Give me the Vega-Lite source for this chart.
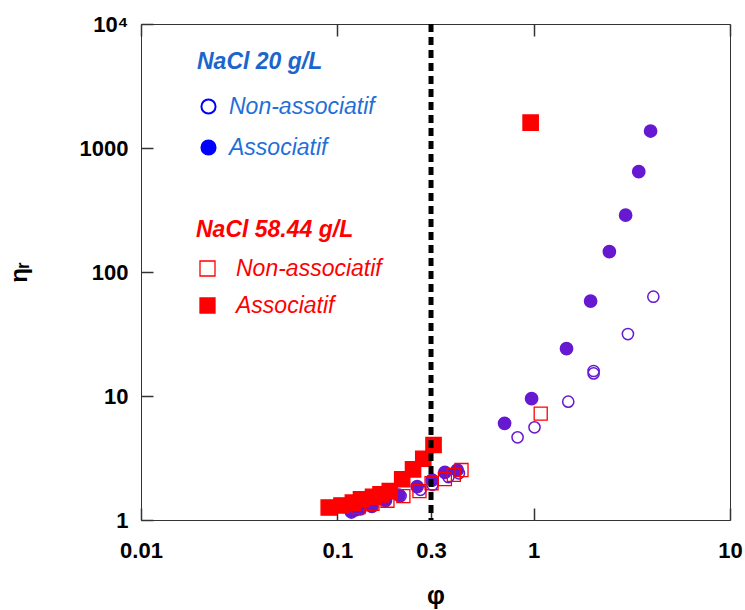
{
  "$schema": "https://vega.github.io/schema/vega-lite/v6.json",
  "width": 589,
  "height": 496,
  "autosize": {"type": "none"},
  "padding": {"left": 141, "top": 24, "right": 15, "bottom": 90},
  "background": "white",
  "config": {"view": {"stroke": "#333", "strokeWidth": 1}, "font": "Liberation Sans", "legend": {"labelLimit": 0}},
  "datasets": {
    "pts": [
      {"salt": "20", "type": "Associatif", "phi": 0.118, "eta": 1.16},
      {"salt": "20", "type": "Associatif", "phi": 0.131, "eta": 1.23},
      {"salt": "20", "type": "Associatif", "phi": 0.150, "eta": 1.29},
      {"salt": "20", "type": "Associatif", "phi": 0.176, "eta": 1.45},
      {"salt": "20", "type": "Associatif", "phi": 0.206, "eta": 1.59},
      {"salt": "20", "type": "Associatif", "phi": 0.255, "eta": 1.86},
      {"salt": "20", "type": "Associatif", "phi": 0.304, "eta": 2.10},
      {"salt": "20", "type": "Associatif", "phi": 0.353, "eta": 2.42},
      {"salt": "20", "type": "Associatif", "phi": 0.408, "eta": 2.53},
      {"salt": "20", "type": "Associatif", "phi": 0.711, "eta": 6.02},
      {"salt": "20", "type": "Associatif", "phi": 0.976, "eta": 9.51},
      {"salt": "20", "type": "Associatif", "phi": 1.47, "eta": 24.1},
      {"salt": "20", "type": "Associatif", "phi": 1.95, "eta": 58.3},
      {"salt": "20", "type": "Associatif", "phi": 2.43, "eta": 146},
      {"salt": "20", "type": "Associatif", "phi": 2.94, "eta": 287},
      {"salt": "20", "type": "Associatif", "phi": 3.43, "eta": 644},
      {"salt": "20", "type": "Associatif", "phi": 3.94, "eta": 1371},
      {"salt": "20", "type": "Non-associatif", "phi": 0.124, "eta": 1.20},
      {"salt": "20", "type": "Non-associatif", "phi": 0.148, "eta": 1.30},
      {"salt": "20", "type": "Non-associatif", "phi": 0.176, "eta": 1.42},
      {"salt": "20", "type": "Non-associatif", "phi": 0.210, "eta": 1.56},
      {"salt": "20", "type": "Non-associatif", "phi": 0.265, "eta": 1.75},
      {"salt": "20", "type": "Non-associatif", "phi": 0.305, "eta": 1.92},
      {"salt": "20", "type": "Non-associatif", "phi": 0.368, "eta": 2.22},
      {"salt": "20", "type": "Non-associatif", "phi": 0.416, "eta": 2.38},
      {"salt": "20", "type": "Non-associatif", "phi": 0.828, "eta": 4.64},
      {"salt": "20", "type": "Non-associatif", "phi": 1.01, "eta": 5.59},
      {"salt": "20", "type": "Non-associatif", "phi": 1.50, "eta": 9.0},
      {"salt": "20", "type": "Non-associatif", "phi": 2.02, "eta": 15.2},
      {"salt": "20", "type": "Non-associatif", "phi": 2.02, "eta": 15.9},
      {"salt": "20", "type": "Non-associatif", "phi": 3.02, "eta": 31.6},
      {"salt": "20", "type": "Non-associatif", "phi": 4.07, "eta": 63.2},
      {"salt": "58.44", "type": "Non-associatif", "phi": 0.128, "eta": 1.27},
      {"salt": "58.44", "type": "Non-associatif", "phi": 0.151, "eta": 1.35},
      {"salt": "58.44", "type": "Non-associatif", "phi": 0.180, "eta": 1.43},
      {"salt": "58.44", "type": "Non-associatif", "phi": 0.217, "eta": 1.56},
      {"salt": "58.44", "type": "Non-associatif", "phi": 0.262, "eta": 1.71},
      {"salt": "58.44", "type": "Non-associatif", "phi": 0.302, "eta": 1.98},
      {"salt": "58.44", "type": "Non-associatif", "phi": 0.353, "eta": 2.14},
      {"salt": "58.44", "type": "Non-associatif", "phi": 0.392, "eta": 2.31},
      {"salt": "58.44", "type": "Non-associatif", "phi": 0.429, "eta": 2.53},
      {"salt": "58.44", "type": "Non-associatif", "phi": 1.086, "eta": 7.2},
      {"salt": "58.44", "type": "Associatif", "phi": 0.0904, "eta": 1.26},
      {"salt": "58.44", "type": "Associatif", "phi": 0.105, "eta": 1.31},
      {"salt": "58.44", "type": "Associatif", "phi": 0.120, "eta": 1.38},
      {"salt": "58.44", "type": "Associatif", "phi": 0.132, "eta": 1.47},
      {"salt": "58.44", "type": "Associatif", "phi": 0.152, "eta": 1.54},
      {"salt": "58.44", "type": "Associatif", "phi": 0.166, "eta": 1.61},
      {"salt": "58.44", "type": "Associatif", "phi": 0.185, "eta": 1.71},
      {"salt": "58.44", "type": "Associatif", "phi": 0.214, "eta": 2.13},
      {"salt": "58.44", "type": "Associatif", "phi": 0.243, "eta": 2.56},
      {"salt": "58.44", "type": "Associatif", "phi": 0.274, "eta": 3.12},
      {"salt": "58.44", "type": "Associatif", "phi": 0.309, "eta": 4.03},
      {"salt": "58.44", "type": "Associatif", "phi": 0.965, "eta": 1600}
    ]
  },
  "data": {"name": "pts"},
  "layer": [
    {
      "transform": [{"filter": "datum.salt == '20'"}],
      "mark": {"type": "point", "shape": "circle", "stroke": "#6619d1", "strokeWidth": 1.5, "opacity": 1},
      "encoding": {
        "x": {
          "field": "phi", "type": "quantitative",
          "scale": {"type": "log", "domain": [0.01, 10], "nice": false},
          "axis": {
            "orient": "bottom", "values": [0.01, 0.1, 0.3, 1, 10], "format": "~g",
            "grid": false, "domain": false, "offset": -12, "ticks": true, "tickColor": "#333", "tickWidth": 1.5, "tickSize": 12,
            "labelPadding": 20, "labelFontSize": 22, "labelFontWeight": "bold", "labelColor": "black",
            "labelFlush": false, "labelOverlap": false, "labelFont": "Liberation Sans",
            "title": "φ", "titleFontSize": 25, "titleFontWeight": "bold", "titleColor": "black",
            "titleFont": "Liberation Sans", "titleBaseline": "alphabetic", "titleY": 95
          }
        },
        "y": {
          "field": "eta", "type": "quantitative",
          "scale": {"type": "log", "domain": [1, 10000], "nice": false},
          "axis": {
            "orient": "left", "values": [1, 10, 100, 1000, 10000],
            "labelExpr": "datum.value >= 10000 ? '10⁴' : format(datum.value, 'd')",
            "grid": false, "domain": false, "offset": -12, "ticks": true, "tickColor": "#333", "tickWidth": 1.5, "tickSize": 12,
            "labelPadding": 13, "labelFontSize": 22, "labelFontWeight": "bold", "labelColor": "black",
            "labelFlush": false, "labelOverlap": false, "labelFont": "Liberation Sans",
            "title": "ηᵣ", "titleFontSize": 24, "titleFontWeight": "bold", "titleColor": "black",
            "titleFont": "Liberation Sans", "titleX": -122, "titleY": 248
          }
        },
        "fill": {
          "field": "type", "type": "nominal",
          "scale": {"domain": ["Associatif", "Non-associatif"], "range": ["#6619d1", "transparent"]},
          "legend": null
        },
        "size": {
          "field": "type", "type": "nominal",
          "scale": {"domain": ["Associatif", "Non-associatif"], "range": [150, 125]},
          "legend": null
        }
      }
    },
    {
      "transform": [{"filter": "datum.salt == '20'"}],
      "mark": {"type": "point", "shape": "circle", "opacity": 0},
      "encoding": {
        "x": {"field": "phi", "type": "quantitative", "scale": {"type": "log", "domain": [0.01, 10], "nice": false}, "axis": null},
        "y": {"field": "eta", "type": "quantitative", "scale": {"type": "log", "domain": [1, 10000], "nice": false}, "axis": null},
        "fill": {
          "field": "type", "type": "nominal",
          "scale": {"domain": ["Non-associatif", "Associatif"], "range": ["transparent", "#0000ff"]},
          "legend": {
            "orient": "none", "legendX": 56, "legendY": 27, "direction": "vertical",
            "title": "NaCl 20 g/L", "titleColor": "#1a66cc", "titleFont": "Liberation Sans",
            "titleFontSize": 23, "titleFontStyle": "italic", "titleFontWeight": "bold", "titlePadding": 21,
            "labelColor": "#1f6fd8", "labelFont": "Liberation Sans", "labelFontSize": 23, "labelFontStyle": "italic",
            "labelOffset": 9, "rowPadding": 17, "symbolType": "circle", "symbolSize": 200, "symbolStrokeWidth": 2,
            "symbolOpacity": 1,
            "encoding": {"symbols": {"stroke": {"value": "#0000ff"}}}
          }
        }
      }
    },
    {
      "transform": [{"filter": "datum.salt == '58.44'"}],
      "mark": {"type": "point", "shape": "square", "stroke": "#ff0000", "strokeWidth": 1.3, "opacity": 1},
      "encoding": {
        "x": {"field": "phi", "type": "quantitative", "scale": {"type": "log", "domain": [0.01, 10], "nice": false}, "axis": null},
        "y": {"field": "eta", "type": "quantitative", "scale": {"type": "log", "domain": [1, 10000], "nice": false}, "axis": null},
        "fill": {
          "field": "type", "type": "nominal",
          "scale": {"domain": ["Non-associatif", "Associatif"], "range": ["transparent", "#ff0000"]},
          "legend": {
            "orient": "none", "legendX": 55, "legendY": 195, "direction": "vertical",
            "title": "NaCl 58.44 g/L", "titleColor": "#ff0000", "titleFont": "Liberation Sans",
            "titleFontSize": 23, "titleFontStyle": "italic", "titleFontWeight": "bold", "titlePadding": 15,
            "labelColor": "#ff0000", "labelFont": "Liberation Sans", "labelFontSize": 23, "labelFontStyle": "italic",
            "labelOffset": 17, "rowPadding": 13, "symbolType": "square", "symbolSize": 225, "symbolStrokeWidth": 1.3
          }
        },
        "size": {
          "field": "type", "type": "nominal",
          "scale": {"domain": ["Associatif", "Non-associatif"], "range": [235, 170]},
          "legend": null
        }
      }
    },
    {
      "data": {"values": [{"v": 0.3}]},
      "mark": {"type": "rule", "color": "black", "strokeWidth": 5, "strokeDash": [8, 5]},
      "encoding": {
        "x": {
          "field": "v", "type": "quantitative",
          "scale": {"type": "log", "domain": [0.01, 10], "nice": false},
          "axis": {"orient": "top", "values": [0.01, 0.1, 1, 10], "labels": false, "title": null, "domain": false,
                   "grid": false, "offset": -12, "ticks": true, "tickSize": 12, "tickColor": "#333", "tickWidth": 1.5}
        }
      }
    }
  ],
  "resolve": {
    "scale": {"fill": "independent", "size": "independent"},
    "legend": {"fill": "independent"},
    "axis": {"x": "independent", "y": "independent"}
  }
}
